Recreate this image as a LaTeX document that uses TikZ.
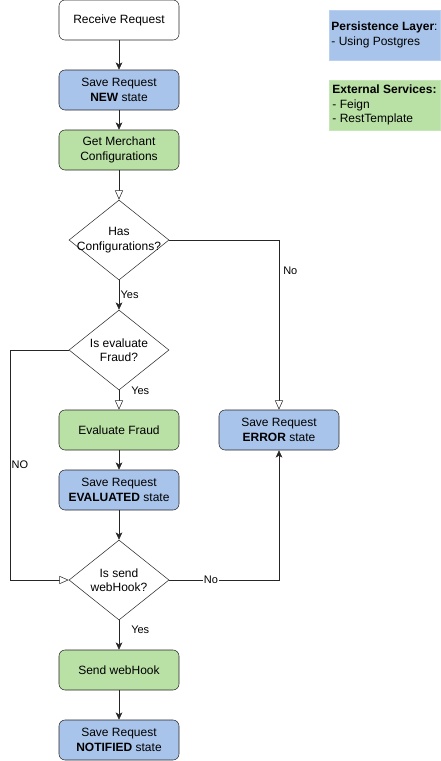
\documentclass[tikz,border=0pt]{standalone}
\usepackage{fontspec}
\setmainfont{Liberation Sans}
\usetikzlibrary{arrows.meta, positioning, shapes.geometric}
\definecolor{persistblue}{HTML}{A9C4EB}
\definecolor{servicegreen}{HTML}{B9E0A5}
\def\mainx{119}
\def\errx{279}

\begin{document}
\begin{tikzpicture}[x=0.75pt, y=-0.75pt, font=\fontsize{9}{10.8}\selectfont, draw=black!85, >={Stealth[length=5.5pt,width=5pt,inset=1.5pt]}]
    \tikzstyle{process}=[rectangle, rounded corners=4.5pt, draw=black!85, minimum width=90pt, minimum height=30pt, align=center, inner sep=0pt]
    \tikzstyle{store process}=[process, fill=persistblue]
    \tikzstyle{service process}=[process, fill=servicegreen]
    \tikzstyle{decision}=[diamond, draw=black!85, minimum width=75pt, minimum height=60pt, inner sep=0pt]
    \tikzstyle{legend}=[rectangle, minimum width=83.25pt, minimum height=37.5pt, align=left, inner sep=1pt]
    \tikzstyle{flow label}=[font=\fontsize{8.25}{9.9}\selectfont, inner sep=1pt]
    \tikzstyle{open arrow}=[-{Triangle[open, length=7pt, width=6pt, fill=white]}]

    \useasboundingbox (0,0) rectangle (440,761);

    % Draw the main column
    \node[process] (receive) at (\mainx,20) {Receive Request};
    \node[store process] (savenew) at (\mainx,90) {Save Request\\\textbf{NEW} state};
    \node[service process] (merchant) at (\mainx,150) {Get Merchant\\Configurations};
    \node[decision, label={[align=center]center:{Has\\Configurations?}}] (hasconf) at (\mainx,240) {};
    \node[decision, label={[align=center]center:{Is evaluate\\Fraud?}}] (isfraud) at (\mainx,350) {};
    \node[service process] (fraud) at (\mainx,430) {Evaluate Fraud};
    \node[store process] (saveeval) at (\mainx,490) {Save Request\\\textbf{EVALUATED} state};
    \node[decision, label={[align=center]center:{Is send\\webHook?}}] (issend) at (\mainx,580) {};
    \node[service process] (webhook) at (\mainx,670) {Send webHook};
    \node[store process] (savenotified) at (\mainx,740) {Save Request\\\textbf{NOTIFIED} state};

    % Draw the error node
    \node[store process] (saveerror) at (\errx,430) {Save Request\\\textbf{ERROR} state};

    % Draw the legend
    \node[legend, fill=persistblue, draw=persistblue!80!white] (persistence) at (384.5,35) {\textbf{Persistence Layer}:\\- Using Postgres};
    \node[legend, fill=servicegreen, draw=servicegreen!80!white] (services) at (384.5,105) {\textbf{External Services:}\\- Feign\\- RestTemplate};

    % Connect the plain steps
    \foreach \source/\dest in {receive/savenew, savenew/merchant, fraud/saveeval, saveeval/issend, webhook/savenotified}
        \draw[->] (\source) -- (\dest);

    % Connect the decisions
    \draw[open arrow] (merchant) -- (hasconf);
    \draw[->] (hasconf) -- node[flow label, right, pos=0.5] {Yes} (isfraud);
    \draw[open arrow] (hasconf.east) -| node[flow label, right, pos=0.59, xshift=2pt] {No} (saveerror.north);
    \draw[open arrow] (isfraud) -- node[flow label, right, pos=0, xshift=8pt] {Yes} (fraud);
    \coordinate (noturn) at (10,350);
    \draw[open arrow] (isfraud.west) -- (noturn) |- node[flow label, right, pos=0.25] {NO} (issend.west);
    \draw[->] (issend.east) -| node[flow label, fill=white, pos=0.19] {No} (saveerror.south);
    \draw[->] (issend) -- node[flow label, right, pos=0.33, xshift=8pt] {Yes} (webhook);
\end{tikzpicture}
\end{document}
